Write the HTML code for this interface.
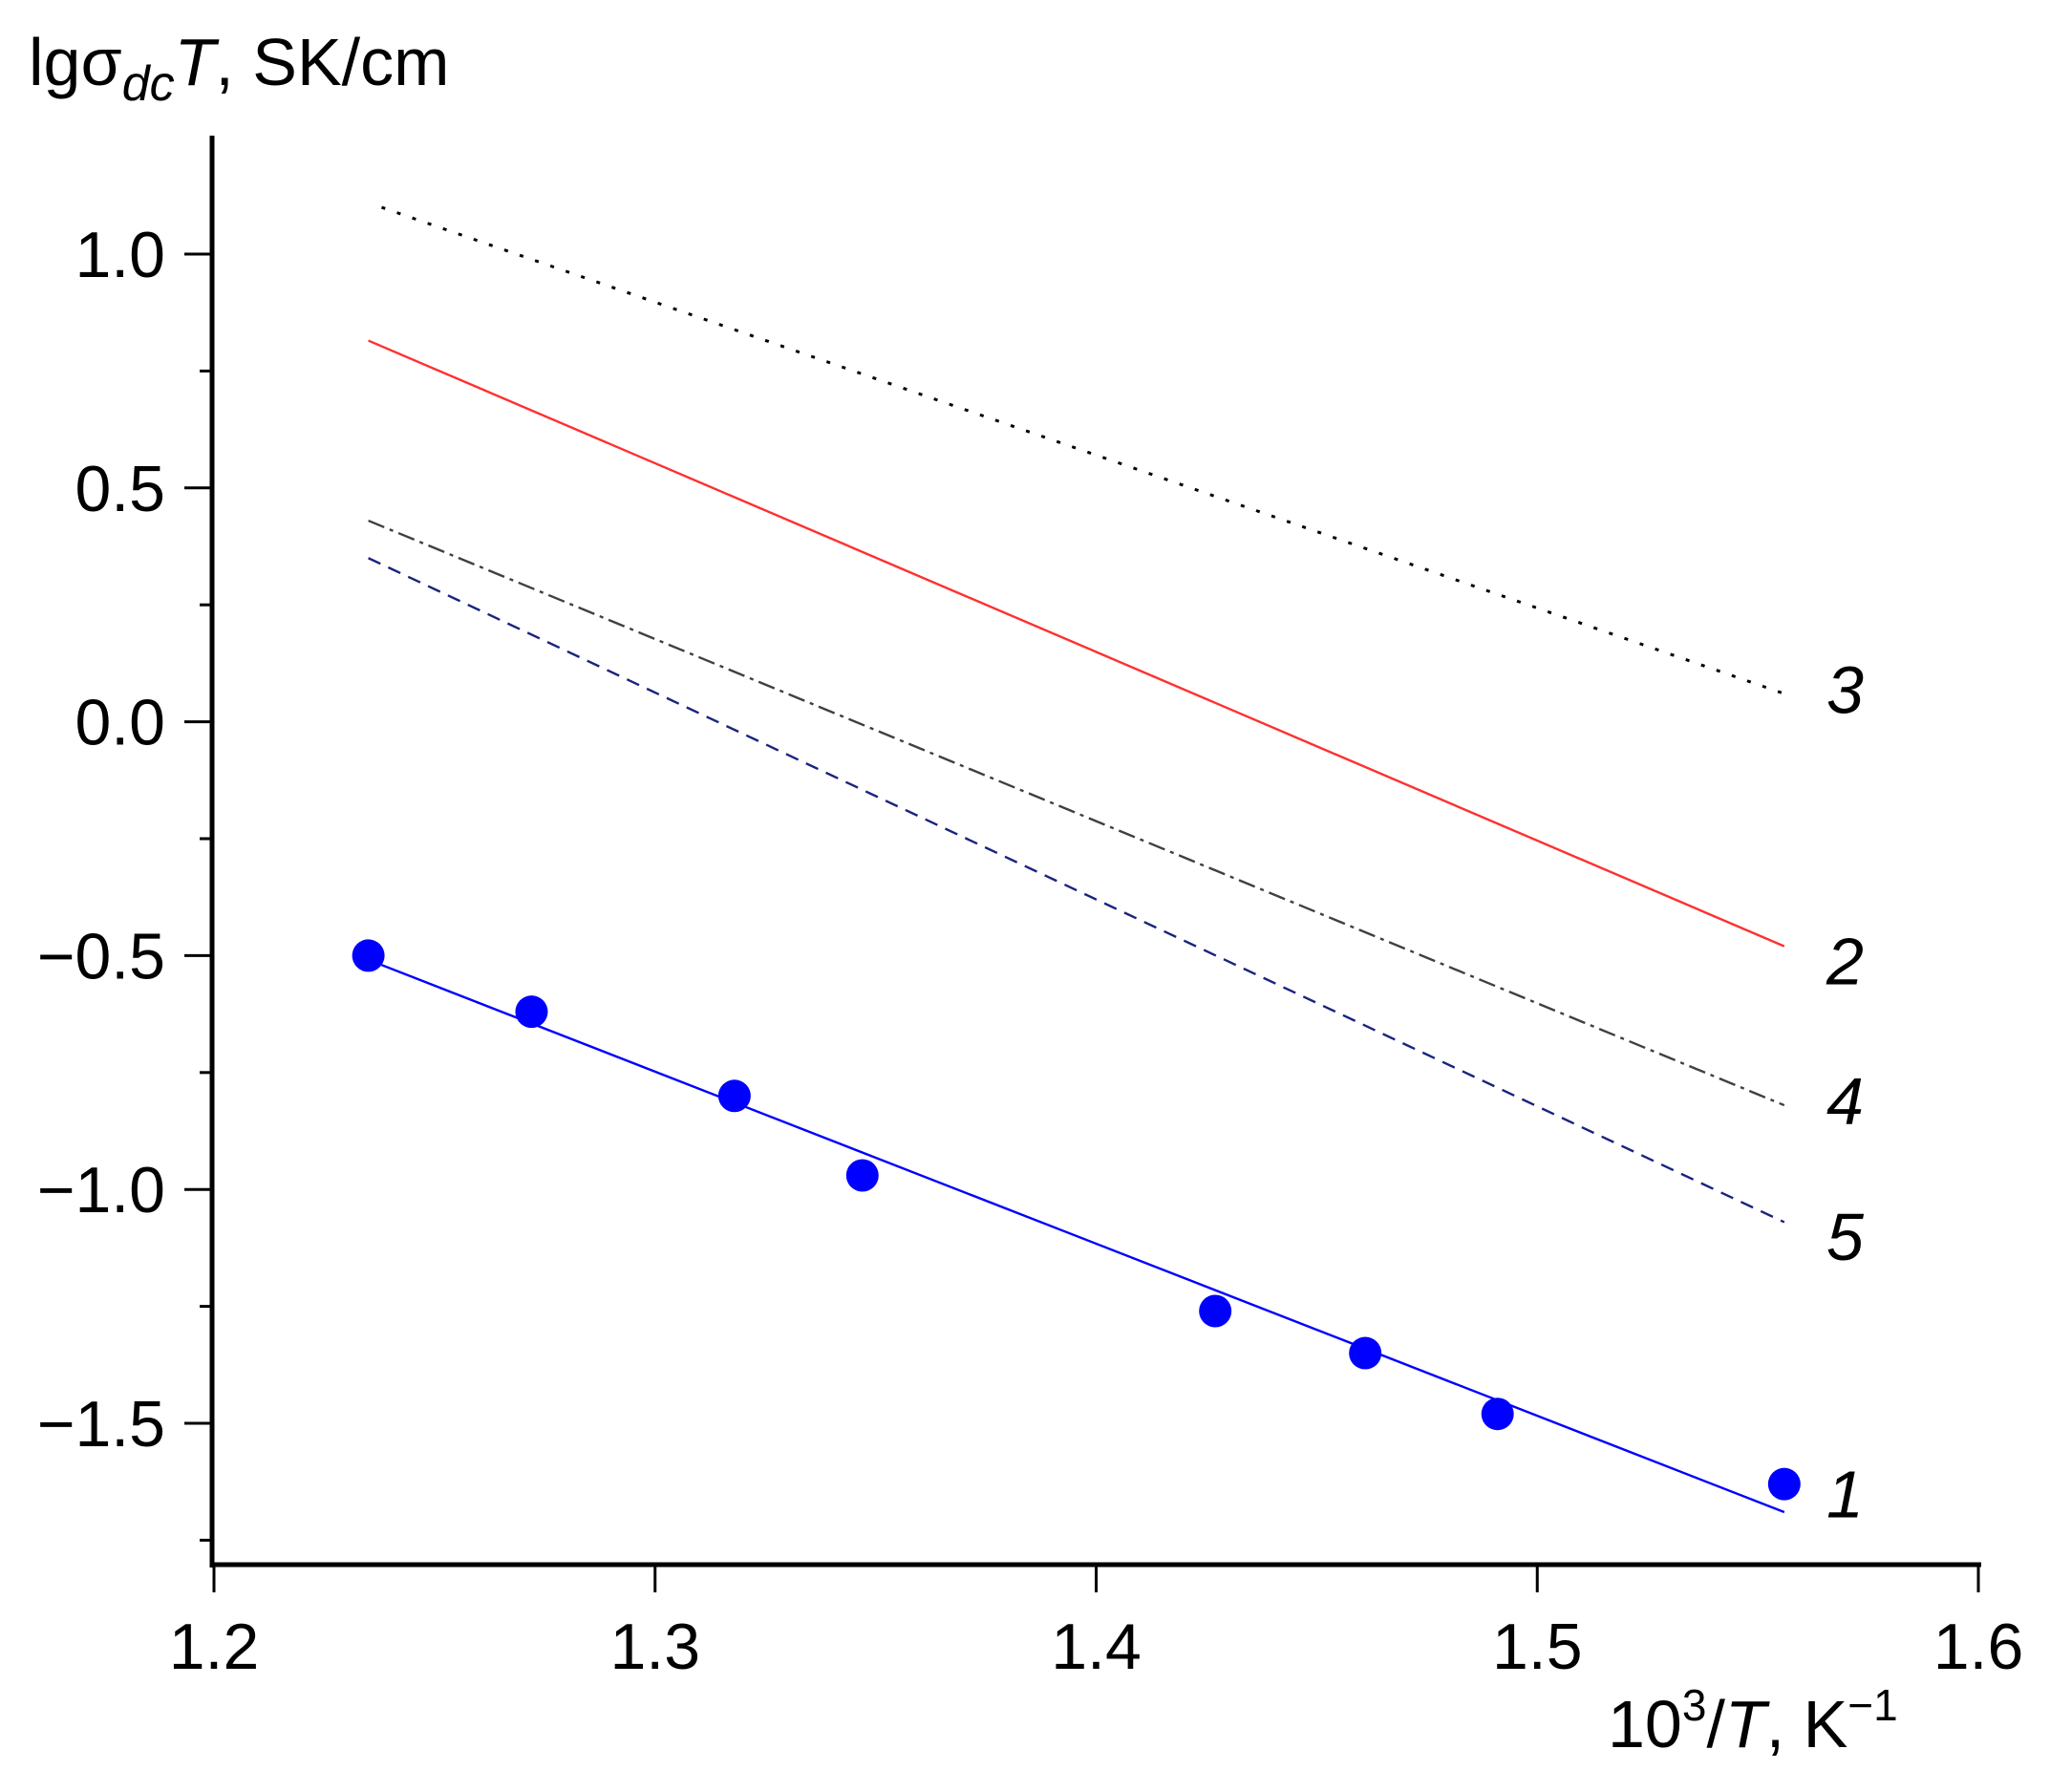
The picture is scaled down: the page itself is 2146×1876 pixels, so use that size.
<!DOCTYPE html>
<html><head><meta charset="utf-8"><style>
html,body{margin:0;padding:0;background:#fff;}
svg{display:block;font-family:"Liberation Sans",Arial,sans-serif;}
</style></head><body>
<svg id="chart" width="2146" height="1876" viewBox="0 0 2146 1876" xmlns="http://www.w3.org/2000/svg">
<g id="axes"></g>
<g id="series"></g>
<text x="30" y="89" font-size="70" fill="#000">lgσ<tspan font-style="italic" font-size="52" dy="16">dc</tspan><tspan font-style="italic" dy="-16">T</tspan>, SK/cm</text>
<text x="1683" y="1829" font-size="70" fill="#000">10<tspan font-size="46" dy="-28">3</tspan><tspan dy="28">/</tspan><tspan font-style="italic">T</tspan>, K<tspan font-size="46" dy="-28">−1</tspan></text>
</svg>
<script>
const xTicks = [1.2, 1.3, 1.4, 1.5, 1.6];
const yTicks = [1.0, 0.5, 0.0, -0.5, -1.0, -1.5];
const yTickLabels = ["1.0", "0.5", "0.0", "−0.5", "−1.0", "−1.5"];
const yMinorTicks = [0.75, 0.25, -0.25, -0.75, -1.25, -1.75];
const pointsX = [1.235, 1.272, 1.318, 1.347, 1.427, 1.461, 1.491, 1.556];
const pointsY = [-0.50, -0.62, -0.80, -0.97, -1.26, -1.35, -1.48, -1.63];
const lineNames = ["1", "2", "3", "4", "5"];
const lineX0 = [1.238, 1.235, 1.238, 1.235, 1.235];
const lineY0 = [-0.52, 0.815, 1.10, 0.43, 0.35];
const lineX1 = [1.556, 1.556, 1.556, 1.556, 1.556];
const lineY1 = [-1.69, -0.48, 0.06, -0.82, -1.07];
const lineColors = ["#0000ff", "#ff3030", "#000000", "#404040", "#1a237e"];
const lineDash = ["", "", "4 13", "18 6 4 6", "14 9"];
const labelY = [-1.65, -0.51, 0.07, -0.81, -1.10];

const NS = "http://www.w3.org/2000/svg";
function sx(v){ return 224 + (v - 1.2) * 4617.5; }
function sy(v){ return 755.6 - v * 489.6; }
function mk(tag, attrs, parent){ const e = document.createElementNS(NS, tag); for (const k in attrs) e.setAttribute(k, attrs[k]); parent.appendChild(e); return e; }
const axes = document.getElementById('axes');
const series = document.getElementById('series');

const yAxis = mk('line', {x1:222, y1:142, x2:222, y2:1641, stroke:'#000','stroke-width':5}, axes);


const xAxis = mk('line', {x1:220, y1:1638, x2:2074, y2:1638, stroke:'#000','stroke-width':5}, axes);



xTicks.forEach((t) => {
  const l = mk('line', {x1:sx(t), y1:1638, x2:sx(t), y2:1667, stroke:'#000','stroke-width':3}, axes);
  
  
  const tx = mk('text', {x:sx(t), y:1747, 'font-size':68, 'text-anchor':'middle', fill:'#000'}, axes);
  tx.textContent = t.toFixed(1);
  
  
});
yTicks.forEach((t, i) => {
  const l = mk('line', {x1:193, y1:sy(t), x2:222, y2:sy(t), stroke:'#000','stroke-width':3}, axes);
  
  
  const tx = mk('text', {x:173, y:sy(t) + 24, 'font-size':68, 'text-anchor':'end', fill:'#000'}, axes);
  tx.textContent = yTickLabels[i];
  
  
});
yMinorTicks.forEach((t) => {
  const l = mk('line', {x1:209, y1:sy(t), x2:222, y2:sy(t), stroke:'#000','stroke-width':3}, axes);
  
  
});

lineNames.forEach((n, i) => {
  const attrs = {x1:sx(lineX0[i]), y1:sy(lineY0[i]), x2:sx(lineX1[i]), y2:sy(lineY1[i]), stroke:lineColors[i], 'stroke-width': i === 2 ? 3 : 2.4};
  if (lineDash[i]) attrs['stroke-dasharray'] = lineDash[i];
  const l = mk('line', attrs, series);
  
  
  const tx = mk('text', {x:1912, y:sy(labelY[i]) + 25, 'font-size':70, 'font-style':'italic', fill:'#000'}, series);
  tx.textContent = n;
  
  
});
pointsX.forEach((x, i) => {
  const c = mk('circle', {cx:sx(x), cy:sy(pointsY[i]), r:17, fill:'#0000ff'}, series);
  
  
});
</script>
</body></html>
